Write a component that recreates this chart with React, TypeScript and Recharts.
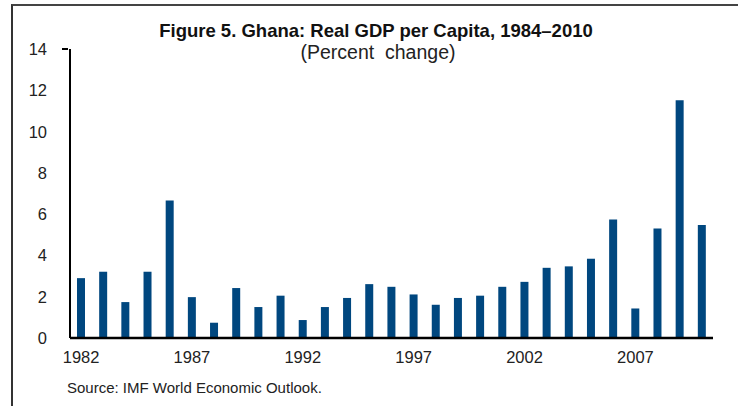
import * as React from "react";
import { BarChart, Bar, XAxis, YAxis } from "recharts";

const years = [
  "1982", "1983", "1984", "1985", "1986", "1987", "1988", "1989", "1990", "1991",
  "1992", "1993", "1994", "1995", "1996", "1997", "1998", "1999", "2000", "2001",
  "2002", "2003", "2004", "2005", "2006", "2007", "2008", "2009", "2010",
];
const growth = [
  2.9, 3.21, 1.74, 3.21, 6.66, 1.98, 0.74, 2.42, 1.5, 2.05,
  0.87, 1.5, 1.94, 2.61, 2.48, 2.11, 1.61, 1.94, 2.05, 2.48,
  2.72, 3.4, 3.47, 3.84, 5.74, 1.43, 5.3, 11.52, 5.48,
];
const yTicks = [0, 2, 4, 6, 8, 10, 12, 14];

const title = "Figure 5. Ghana: Real GDP per Capita, 1984\u20132010";
const subtitle = "(Percent  change)";
const source = "Source: IMF World Economic Outlook.";

const data = years.map((year, i) => ({ year, value: growth[i] }));

const FONT = "'Liberation Sans', Arial, sans-serif";
const BAR_COLOR = "#00477F";

function YTick({ x, y, payload }: any) {
  const isTop = payload.value === 14;
  return (
    <g>
      {isTop && <line x1={x} x2={x + 6} y1={y} y2={y} stroke="#000" strokeWidth={2} />}
      <text x={x - 15} y={y + 6} textAnchor="end" fontSize={16.5} fill="#222" fontFamily={FONT}>
        {payload.value}
      </text>
    </g>
  );
}

function XTick({ x, y, payload }: any) {
  return (
    <text x={x} y={y + 17} textAnchor="middle" fontSize={16.5} fill="#222" fontFamily={FONT}>
      {payload.value}
    </text>
  );
}

export default function App() {
  return (
    <div style={{ position: "absolute", left: 0, top: 0, width: 738, height: 406, background: "#fff", fontFamily: FONT }}>
      <div
        style={{
          position: "absolute",
          left: 11,
          top: 4,
          width: 740,
          height: 420,
          borderTop: "2px solid #444",
          borderLeft: "2px solid #333",
        }}
      />
      <div style={{ position: "absolute", left: 0, width: 752, top: 20, textAlign: "center", fontSize: 18.5, fontWeight: "bold", color: "#111" }}>
        {title}
      </div>
      <div style={{ position: "absolute", left: 0, width: 756, top: 41, textAlign: "center", fontSize: 19.5, color: "#222", whiteSpace: "pre" }}>
        {subtitle}
      </div>
      <div style={{ position: "absolute", left: 67, top: 379, fontSize: 15, color: "#222" }}>
        {source}
      </div>
      <div style={{ position: "absolute", left: 0, top: 0 }}>
        <BarChart width={738} height={406} data={data} margin={{ top: 49, right: 25, bottom: 38, left: 0 }}>
          <XAxis
            dataKey="year"
            interval={4}
            tickLine={false}
            axisLine={{ stroke: "#000", strokeWidth: 2.5 }}
            tick={<XTick />}
          />
          <YAxis
            width={70}
            domain={[0, 14]}
            ticks={yTicks}
            tickLine={false}
            axisLine={{ stroke: "#000", strokeWidth: 2 }}
            tick={<YTick />}
          />
          <Bar dataKey="value" fill={BAR_COLOR} barSize={8} isAnimationActive={false} />
        </BarChart>
      </div>
    </div>
  );
}
